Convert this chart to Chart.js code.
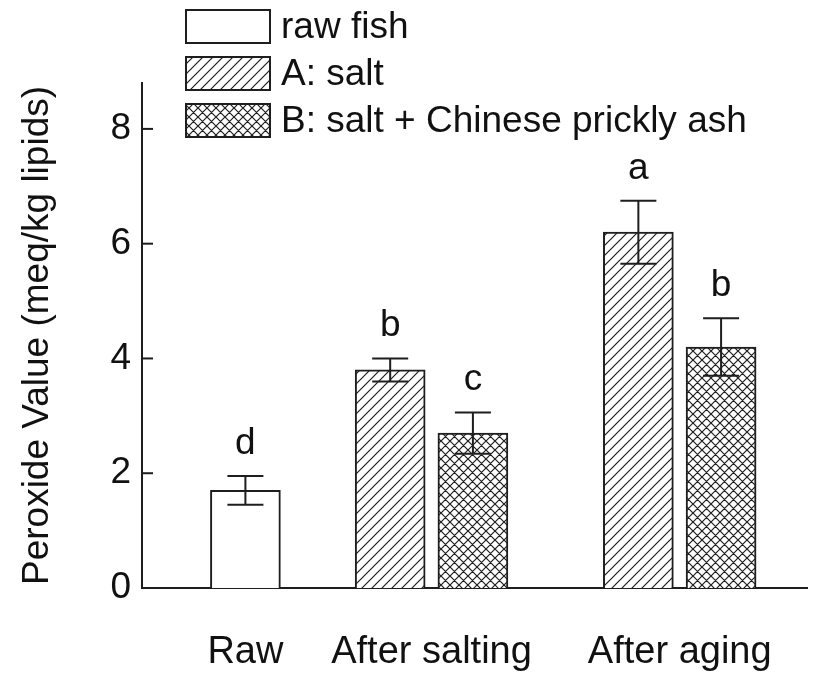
<!DOCTYPE html>
<html>
<head>
<meta charset="utf-8">
<script src="https://cdn.jsdelivr.net/npm/chart.js@4"></script>
<style>
  body { margin: 0; background: #fff; }
</style>
</head>
<body>
<canvas id="pv_chart" width="814" height="677"></canvas>
<script>
/*------------------------------*/
/*     DATA                     */
/*------------------------------*/
var stages = ['Raw', 'After salting', 'After aging']
var seriesNames = ['raw fish', 'A: salt', 'B: salt + Chinese prickly ash']

var rawFish = [1.7]
var rawFishErr = [0.25]
var rawFishLetters = ['d']

var saltA = [3.8, 6.2]
var saltAErr = [0.2, 0.55]
var saltALetters = ['b', 'a']

var saltB = [2.7, 4.2]
var saltBErr = [0.36, 0.5]
var saltBLetters = ['c', 'b']

/*------------------------------*/
/*     LAYOUT / STYLE           */
/*------------------------------*/
var FONT = '"Liberation Sans", Arial, sans-serif'
var INK = '#1e1e1e'
// centre of each stage on the x axis, and shift of the A / B bar inside a pair
var groupCenters = [1.25, 3.5, 6.5]
var pairShift = 0.5

function hatchPattern(size, cross) {
  var c = document.createElement('canvas')
  c.width = size
  c.height = size
  var g = c.getContext('2d')
  g.fillStyle = '#fff'
  g.fillRect(0, 0, size, size)
  g.strokeStyle = INK
  g.lineWidth = 1.2
  g.beginPath()
  // "/" lines
  g.moveTo(-1, size + 1); g.lineTo(size + 1, -1)
  g.moveTo(-size / 2 - 1, size / 2 + 1); g.lineTo(size / 2 + 1, -size / 2 - 1)
  g.moveTo(size / 2 - 1, size * 1.5 + 1); g.lineTo(size * 1.5 + 1, size / 2 - 1)
  if (cross) {
    // "\" lines
    g.moveTo(-1, -1); g.lineTo(size + 1, size + 1)
    g.moveTo(size / 2 - 1, -size / 2 - 1); g.lineTo(size * 1.5 + 1, size / 2 + 1)
    g.moveTo(-size / 2 - 1, size / 2 - 1); g.lineTo(size / 2 + 1, size * 1.5 + 1)
  }
  g.stroke()
  return document.getElementById('pv_chart').getContext('2d').createPattern(c, 'repeat')
}

var fillRaw = '#ffffff'
var fillA = hatchPattern(10, false)
var fillB = hatchPattern(9, true)

/*------------------------------*/
/*     PLUGINS                  */
/*------------------------------*/
// error bars + significance letters
var errorBars = {
  id: 'errorBars',
  afterDatasetsDraw: function (chart) {
    var ctx = chart.ctx
    var y = chart.scales.y
    ctx.save()
    ctx.strokeStyle = INK
    ctx.lineWidth = 2
    ctx.fillStyle = '#111'
    ctx.font = '37px ' + FONT
    ctx.textAlign = 'center'
    ctx.textBaseline = 'alphabetic'
    chart.data.datasets.forEach(function (ds, i) {
      chart.getDatasetMeta(i).data.forEach(function (bar, j) {
        var v = ds.data[j].y
        var e = ds.errors[j]
        var top = y.getPixelForValue(v + e)
        var bot = y.getPixelForValue(v - e)
        ctx.beginPath()
        ctx.moveTo(bar.x, top); ctx.lineTo(bar.x, bot)
        ctx.moveTo(bar.x - 18, top); ctx.lineTo(bar.x + 18, top)
        ctx.moveTo(bar.x - 18, bot); ctx.lineTo(bar.x + 18, bot)
        ctx.stroke()
        ctx.fillText(ds.letters[j], bar.x, top - 22)
      })
    })
    ctx.restore()
  }
}

// y ticks pointing into the plot
var innerTicks = {
  id: 'innerTicks',
  afterDraw: function (chart) {
    var ctx = chart.ctx
    var y = chart.scales.y
    var left = chart.chartArea.left
    ctx.save()
    ctx.strokeStyle = INK
    ctx.lineWidth = 2
    y.ticks.forEach(function (t) {
      var py = y.getPixelForValue(t.value)
      ctx.beginPath()
      ctx.moveTo(left, py); ctx.lineTo(left + 11, py)
      ctx.stroke()
    })
    ctx.restore()
  }
}

// legend stacked in the upper left
var boxLegend = {
  id: 'boxLegend',
  afterDraw: function (chart) {
    var ctx = chart.ctx
    ctx.save()
    ctx.font = '37px ' + FONT
    ctx.textBaseline = 'middle'
    ctx.textAlign = 'left'
    chart.data.datasets.forEach(function (ds, i) {
      var bx = 186, by = 10 + i * 47, bw = 84, bh = 33
      ctx.fillStyle = ds.backgroundColor
      ctx.fillRect(bx, by, bw, bh)
      ctx.strokeStyle = INK
      ctx.lineWidth = 2
      ctx.strokeRect(bx, by, bw, bh)
      ctx.fillStyle = '#111'
      ctx.fillText(ds.label, bx + bw + 11, by + bh / 2 + 1)
    })
    ctx.restore()
  }
}

/*------------------------------*/
/*     CHART                    */
/*------------------------------*/
var ctx_pv = document.getElementById('pv_chart').getContext('2d')

var data_pv = {
  datasets: [
    {
      label: seriesNames[0],
      data: rawFish.map(function (v) { return { x: groupCenters[0], y: v } }),
      errors: rawFishErr,
      letters: rawFishLetters,
      backgroundColor: fillRaw
    },
    {
      label: seriesNames[1],
      data: saltA.map(function (v, i) { return { x: groupCenters[i + 1] - pairShift, y: v } }),
      errors: saltAErr,
      letters: saltALetters,
      backgroundColor: fillA
    },
    {
      label: seriesNames[2],
      data: saltB.map(function (v, i) { return { x: groupCenters[i + 1] + pairShift, y: v } }),
      errors: saltBErr,
      letters: saltBLetters,
      backgroundColor: fillB
    }
  ]
}

var config_pv = {
  type: 'bar',
  data: data_pv,
  options: {
    responsive: false,
    animation: false,
    devicePixelRatio: 1,
    layout: { padding: { top: 83, right: 2, left: 0, bottom: 0 } },
    datasets: {
      bar: {
        grouped: false,
        barThickness: 70,
        borderColor: INK,
        borderWidth: 2,
        borderSkipped: 'start'
      }
    },
    plugins: {
      legend: { display: false },
      tooltip: { enabled: false }
    },
    scales: {
      x: {
        type: 'linear',
        offset: false,
        bounds: 'data',
        min: 0,
        max: 8.05,
        afterFit: function (s) { s.height = 89 },
        afterBuildTicks: function (s) {
          s.ticks = groupCenters.map(function (c) { return { value: c } })
        },
        grid: { display: false, drawTicks: false, offset: false },
        border: { display: true, color: INK, width: 2 },
        ticks: {
          padding: 42,
          color: '#111',
          font: { family: FONT, size: 38 },
          callback: function (value) { return stages[groupCenters.indexOf(value)] }
        }
      },
      y: {
        min: 0,
        max: 8.8,
        afterFit: function (s) { s.width = 142 },
        grid: { display: false, drawTicks: false },
        border: { display: true, color: INK, width: 2 },
        ticks: {
          stepSize: 2,
          includeBounds: false,
          padding: 11,
          color: '#111',
          font: { family: FONT, size: 37 }
        },
        title: {
          display: true,
          text: 'Peroxide Value (meq/kg lipids)',
          color: '#111',
          font: { family: FONT, size: 37 },
          padding: { top: 16, bottom: 0 }
        }
      }
    }
  },
  plugins: [errorBars, innerTicks, boxLegend]
}

var graph_pv = new Chart(ctx_pv, config_pv)
</script>
</body>
</html>
